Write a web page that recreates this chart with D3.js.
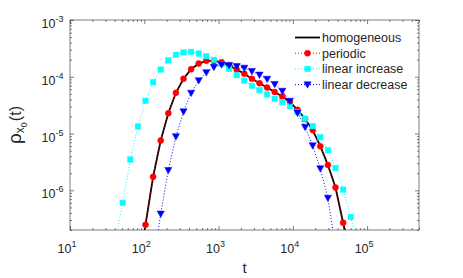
<!DOCTYPE html>
<html>
<head>
<meta charset="utf-8">
<script src="https://cdn.jsdelivr.net/npm/d3@7"></script>
<style>
  body { margin: 0; background: #fff; }
  svg { display: block; }
  text { font-family: "Liberation Sans", Arial, Helvetica, sans-serif; fill: #262626; }
</style>
</head>
<body>
<svg id="chart"></svg>
<script>
// DATA
const tGrid = [40.5, 51.2, 64.9, 82.1, 103.9, 131.5, 166.5, 210.7, 266.7, 337.5, 427.2,
  540.7, 684.3, 866.1, 1096, 1387, 1756, 2223, 2813, 3561, 4507, 5704, 7219, 9139,
  11570, 14640, 18530, 23450, 29690, 37580, 47560, 60200, 76200];

const homogeneous = [null, null, null, 4e-8, 2.47e-7, 1.73e-6, 7.54e-6, 2.28e-5, 5.22e-5,
  9.21e-5, 1.36e-4, 1.71e-4, 1.91e-4, 1.90e-4, 1.81e-4, 1.58e-4, 1.34e-4, 1.13e-4, 9.21e-5,
  7.71e-5, 6.47e-5, 5.39e-5, 4.49e-5, 3.60e-5, 2.62e-5, 1.80e-5, 1.15e-5, 5.98e-6, 2.79e-6,
  1.12e-6, 2.69e-7, 6e-8, null];

const periodic = [null, null, null, 4e-8, 2.47e-7, 1.73e-6, 7.54e-6, 2.28e-5, 5.22e-5,
  9.21e-5, 1.36e-4, 1.71e-4, 1.91e-4, 1.90e-4, 1.81e-4, 1.58e-4, 1.34e-4, 1.13e-4, 9.21e-5,
  7.71e-5, 6.47e-5, 5.39e-5, 4.49e-5, 3.60e-5, 2.62e-5, 1.80e-5, 1.15e-5, 5.98e-6, 2.79e-6,
  1.12e-6, 2.69e-7, 6e-8, null];

const linearIncrease = [1.25e-7, 6.03e-7, 3.49e-6, 1.33e-5, 3.77e-5, 8.02e-5, 1.34e-4,
  1.94e-4, 2.44e-4, 2.68e-4, 2.75e-4, 2.57e-4, 2.30e-4, 1.99e-4, 1.68e-4, 1.37e-4, 1.07e-4,
  8.53e-5, 6.93e-5, 5.80e-5, 4.87e-5, 4.09e-5, 3.56e-5, 3.03e-5, 2.38e-5, 1.82e-5, 1.35e-5,
  8.62e-6, 5.09e-6, 2.47e-6, 1.03e-6, 3.39e-7, 8.5e-8];

const linearDecrease = [null, null, null, null, null, 4.7e-8, 3.85e-7, 2.26e-6, 8.87e-6,
  2.44e-5, 5.18e-5, 8.59e-5, 1.19e-4, 1.48e-4, 1.64e-4, 1.60e-4, 1.53e-4, 1.43e-4, 1.25e-4,
  1.08e-4, 9.14e-5, 7.40e-5, 5.61e-5, 3.74e-5, 2.32e-5, 1.30e-5, 6.15e-6, 2.42e-6, 7.32e-7,
  9.8e-8, null, null, null];

const seriesNames = ["homogeneous", "periodic", "linear increase", "linear decrease"];
const xMajor = [1e1, 1e2, 1e3, 1e4, 1e5];
const yMajor = [1e-6, 1e-5, 1e-4, 1e-3];

// DIMENSIONS
const dims = { width: 463, height: 278 };
const frame = { left: 70, top: 20, right: 419, bottom: 230 };

const svg = d3.select("#chart").attr("width", dims.width).attr("height", dims.height);

const x = d3.scaleLog().domain([10, 5e5]).range([frame.left, frame.right]);
const y = d3.scaleLog().domain([2e-7, 1e-3]).range([frame.bottom, frame.top]);

svg.append("clipPath").attr("id", "clip")
  .append("rect")
  .attr("x", frame.left).attr("y", frame.top)
  .attr("width", frame.right - frame.left).attr("height", frame.bottom - frame.top);

// TICKS (inward, on all four sides)
const isMajor = (v) => Math.abs(Math.log10(v) - Math.round(Math.log10(v))) < 1e-9;
const xMinor = x.ticks().filter((v) => !isMajor(v));
const yMinor = y.ticks().filter((v) => !isMajor(v));

function tickGroup(axisFn, scale, vals, size, tx, ty) {
  svg.append("g")
    .attr("transform", `translate(${tx},${ty})`)
    .call(axisFn(scale).tickValues(vals).tickSize(size).tickFormat(""))
    .call((g) => g.select(".domain").remove())
    .call((g) => g.selectAll("line").attr("stroke", "#262626").attr("stroke-width", 0.6));
}
tickGroup(d3.axisBottom, x, xMajor, -4, 0, frame.bottom);
tickGroup(d3.axisBottom, x, xMinor, -2, 0, frame.bottom);
tickGroup(d3.axisTop, x, xMajor, -4, 0, frame.top);
tickGroup(d3.axisTop, x, xMinor, -2, 0, frame.top);
tickGroup(d3.axisLeft, y, yMajor, -4, frame.left, 0);
tickGroup(d3.axisLeft, y, yMinor, -2, frame.left, 0);
tickGroup(d3.axisRight, y, yMajor, -4, frame.right, 0);
tickGroup(d3.axisRight, y, yMinor, -2, frame.right, 0);

// FRAME
svg.append("rect")
  .attr("x", frame.left).attr("y", frame.top)
  .attr("width", frame.right - frame.left).attr("height", frame.bottom - frame.top)
  .attr("fill", "none").attr("stroke", "#262626").attr("stroke-width", 0.6);

// TICK LABELS
const xl = svg.append("g").selectAll("text").data(xMajor).join("text")
  .attr("x", (d) => x(d) - 3).attr("y", 252.5)
  .attr("text-anchor", "middle").attr("font-size", 12.5);
xl.append("tspan").text("10");
xl.append("tspan").attr("dy", -6).attr("font-size", 9).text((d) => Math.round(Math.log10(d)));

const yl = svg.append("g").selectAll("text").data(yMajor).join("text")
  .attr("x", 63.5).attr("y", (d) => y(d) + 8)
  .attr("text-anchor", "end").attr("font-size", 12.5);
yl.append("tspan").text("10");
yl.append("tspan").attr("dy", -6).attr("font-size", 9).text((d) => Math.round(Math.log10(d)));

// AXIS LABELS
svg.append("text")
  .attr("x", (frame.left + frame.right) / 2).attr("y", 273)
  .attr("text-anchor", "middle").attr("font-size", 15).text("t");

const ylab = svg.append("text")
  .attr("transform", `translate(21,${(frame.top + frame.bottom) / 2}) rotate(-90)`)
  .attr("text-anchor", "middle").attr("font-size", 16);
ylab.append("tspan").attr("font-size", 19).text("ρ");
ylab.append("tspan").attr("dy", 3).attr("font-size", 12).text("x");
ylab.append("tspan").attr("dy", 3).attr("font-size", 9).text("0");
ylab.append("tspan").attr("dy", -6).attr("dx", 1).text("(t)");

// SERIES
const tri = "M-3.6,-2.8L3.6,-2.8L0,3.6Z";
const series = [
  { name: seriesNames[0], values: homogeneous, color: "#000", width: 1.8, dash: null, marker: null },
  { name: seriesNames[1], values: periodic, color: "#ff0000", width: 1, dash: "1,2", marker: "circle" },
  { name: seriesNames[2], values: linearIncrease, color: "#00ffff", width: 1, dash: "1,2", marker: "square" },
  { name: seriesNames[3], values: linearDecrease, color: "#0000ff", width: 1, dash: "1,2", marker: "triangle" },
];

const line = d3.line()
  .defined((d) => d.v != null)
  .x((d) => x(d.t))
  .y((d) => y(d.v));

function drawMarker(sel, kind, color) {
  if (kind === "circle") {
    sel.append("circle").attr("r", 3).attr("fill", color).attr("stroke", color).attr("stroke-width", 0.5);
  } else if (kind === "square") {
    sel.append("rect").attr("x", -2.7).attr("y", -2.7).attr("width", 5.4).attr("height", 5.4)
      .attr("fill", color).attr("stroke", color).attr("stroke-width", 0.5);
  } else if (kind === "triangle") {
    sel.append("path").attr("d", tri).attr("fill", color).attr("stroke", color).attr("stroke-width", 0.5);
  }
}

series.forEach((s) => {
  const pts = tGrid.map((t, i) => ({ t, v: s.values[i] }));
  svg.append("path")
    .datum(pts)
    .attr("clip-path", "url(#clip)")
    .attr("d", line)
    .attr("fill", "none")
    .attr("stroke", s.color)
    .attr("stroke-width", s.width)
    .attr("stroke-dasharray", s.dash);
  if (s.marker) {
    const m = svg.append("g").selectAll("g")
      .data(pts.filter((d) => d.v != null && d.v >= y.domain()[0]))
      .join("g")
      .attr("transform", (d) => `translate(${x(d.t)},${y(d.v)})`);
    drawMarker(m, s.marker, s.color);
  }
});

// LEGEND
const legend = svg.append("g");
series.forEach((s, i) => {
  const ly = 37.5 + i * 15.7;
  legend.append("line")
    .attr("x1", 295).attr("x2", 320).attr("y1", ly).attr("y2", ly)
    .attr("stroke", s.color).attr("stroke-width", s.width)
    .attr("stroke-dasharray", s.dash);
  if (s.marker) {
    const g = legend.append("g").attr("transform", `translate(307.5,${ly})`);
    drawMarker(g, s.marker, s.color);
  }
  legend.append("text")
    .attr("x", 322).attr("y", ly + 4.3)
    .attr("font-size", 12.5).attr("fill", "#000")
    .text(s.name);
});
</script>
</body>
</html>
